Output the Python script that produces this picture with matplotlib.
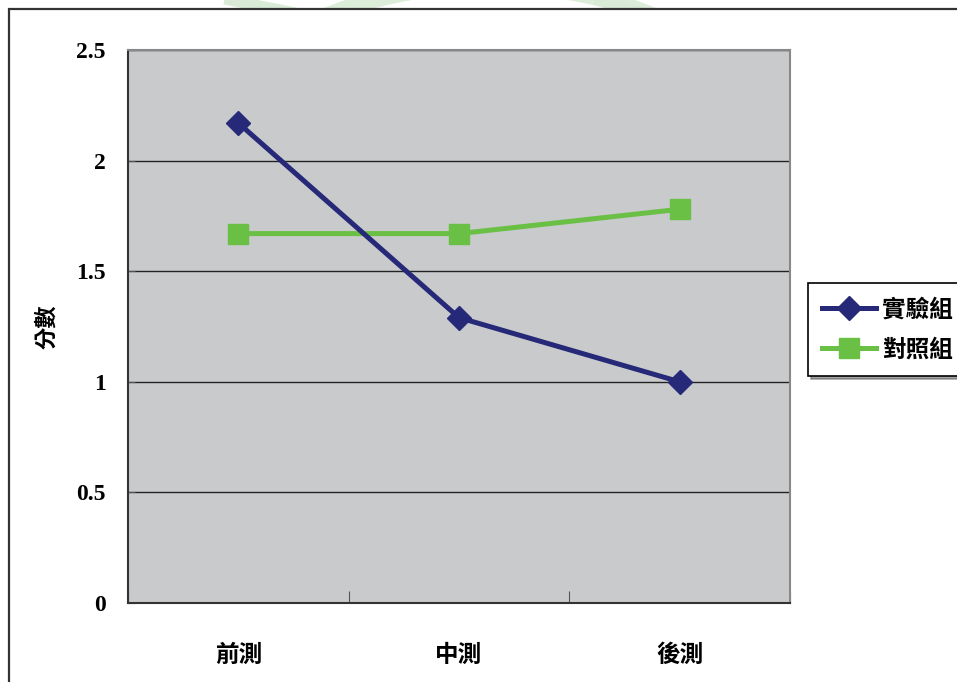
import numpy as np
import matplotlib.pyplot as plt
from matplotlib.patches import Rectangle, Arc

plt.rcParams['font.family'] = ['Noto Sans CJK TC', 'DejaVu Sans']

categories = ['前測', '中測', '後測']
exp_scores = [2.17, 1.29, 1.00]     # 實驗組
ctrl_scores = [1.67, 1.67, 1.78]    # 對照組
y_ticks = [0, 0.5, 1, 1.5, 2, 2.5]
y_labels = ['0', '0.5', '1', '1.5', '2', '2.5']

W, H = 957, 682
fig = plt.figure(figsize=(W / 100, H / 100), dpi=100)

# faint logo strokes above the chart frame
wm = fig.add_axes([0, 0, 1, 1], zorder=0)
wm.set_xlim(0, W)
wm.set_ylim(H, 0)
wm.axis('off')
wm.add_patch(Arc((490, 150), 560, 330, theta1=180, theta2=360, lw=12, color='#dcedd9'))
wm.add_patch(Arc((490, 150), 420, 250, theta1=200, theta2=340, lw=8, color='#e3f1e1'))
wm.plot([230, 290], [0, 12], color='#d9ebd6', lw=8)
wm.plot([600, 640], [0, 12], color='#d9ebd6', lw=8)
# chart frame
wm.add_patch(Rectangle((9, 9), W + 20, H + 20, facecolor='white', edgecolor='#333333', lw=1.6, zorder=3))

ax = fig.add_axes([128 / W, (H - 603) / H, 662 / W, 553 / H], zorder=2)
ax.set_facecolor('#c9cacc')
x = np.arange(len(categories))

ax.plot(x, exp_scores, color='#262878', lw=3.6, marker='D', markersize=12,
        label='實驗組', zorder=4)
ax.plot(x, ctrl_scores, color='#6abf45', lw=3.6, marker='s', markersize=14,
        label='對照組', zorder=3)

ax.set_xlim(-0.5, 2.5)
ax.set_ylim(0, 2.5)
ax.set_yticks(y_ticks)
ax.set_yticklabels(y_labels, family='Liberation Serif', fontweight='bold', fontsize=17)
ax.yaxis.grid(True, color='#222222', lw=1)
ax.set_axisbelow(True)
ax.tick_params(axis='y', direction='in', length=5, pad=16, color='#555555')

ax.set_xticks([-0.5, 0.5, 1.5, 2.5])
ax.set_xticklabels([])
ax.set_xticks(x, minor=True)
ax.set_xticklabels(categories, minor=True, fontsize=17, fontweight='bold')
ax.tick_params(axis='x', which='major', direction='in', length=9, color='#555555')
ax.tick_params(axis='x', which='minor', length=0, pad=29)

for side in ['left', 'bottom']:
    ax.spines[side].set_color('#333333')
    ax.spines[side].set_linewidth(1.5)
for side in ['top', 'right']:
    ax.spines[side].set_color('#888888')
    ax.spines[side].set_linewidth(1.5)

fig.text(47 / W, 1 - 327 / H, '分數', rotation=90, ha='center', va='center',
         fontsize=16, fontweight='bold')

leg = fig.legend(loc='upper left', bbox_to_anchor=(808 / W, 1 - 283 / H),
                 prop={'size': 17, 'weight': 'bold'}, fancybox=False, shadow=True,
                 edgecolor='black', framealpha=1, handlelength=2.3,
                 borderpad=0.6, labelspacing=0.7, handletextpad=0.25,
                 borderaxespad=0)
leg.get_frame().set_linewidth(1.2)

fig.savefig('out.png', dpi=100)
